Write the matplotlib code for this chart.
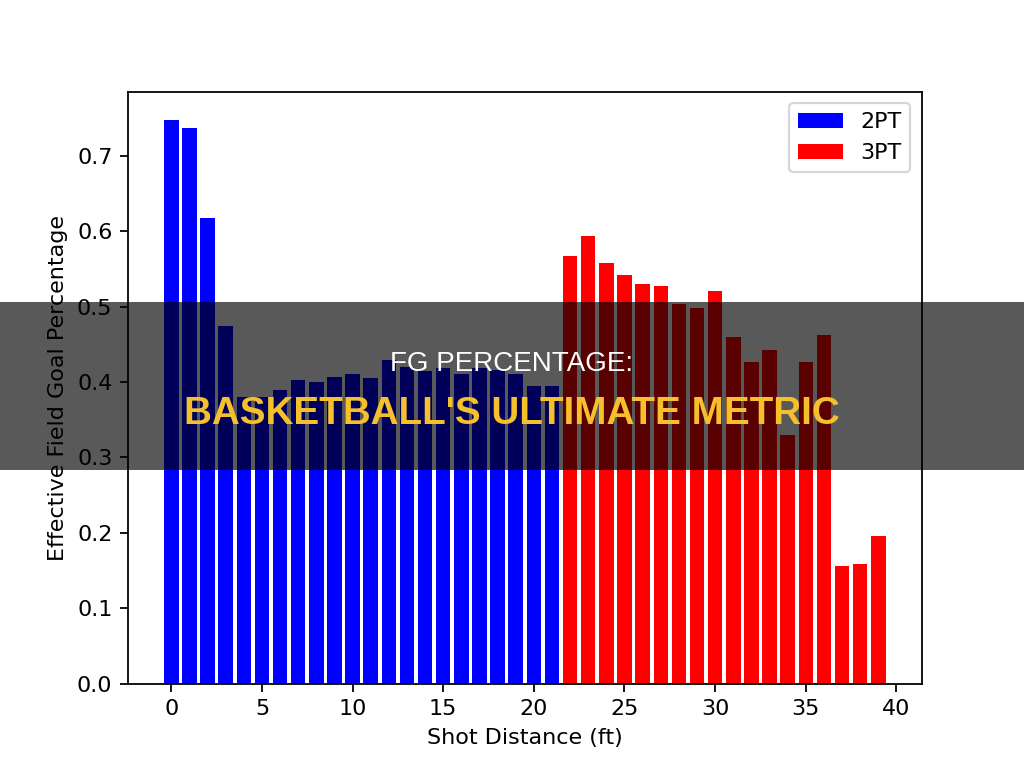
import matplotlib.pyplot as plt
import numpy as np

# effective FG% by shot distance (ft)
dist_2pt = np.arange(0, 22)
efg_2pt = [0.747, 0.737, 0.617, 0.474, 0.380, 0.380, 0.389, 0.403, 0.400, 0.406, 0.411,
           0.405, 0.429, 0.420, 0.414, 0.418, 0.411, 0.419, 0.416, 0.410, 0.394, 0.395]

dist_3pt = np.arange(22, 40)
efg_3pt = [0.567, 0.594, 0.558, 0.542, 0.530, 0.527, 0.504, 0.498, 0.520, 0.459,
           0.427, 0.442, 0.330, 0.426, 0.462, 0.156, 0.159, 0.196]

banner_title = "FG PERCENTAGE:"
banner_subtitle = "BASKETBALL'S ULTIMATE METRIC"

fig, ax = plt.subplots(figsize=(6.4, 4.8), dpi=160)

ax.bar(dist_2pt, efg_2pt, color='blue', label='2PT')
ax.bar(dist_3pt, efg_3pt, color='red', label='3PT')

ax.set_xlabel('Shot Distance (ft)')
ax.set_ylabel('Effective Field Goal Percentage')
ax.legend(loc='upper right')

# dark banner over the middle of the image
band_bottom = 1 - 470 / 768
band_top = 1 - 302 / 768
fig.patches.append(plt.Rectangle((0, band_bottom), 1, band_top - band_bottom,
                                 transform=fig.transFigure, facecolor='black',
                                 alpha=0.65, zorder=10))
fig.text(0.5, 1 - 364 / 768, banner_title, color='white', fontsize=12.5,
         family='Liberation Sans', ha='center', va='center', zorder=11)
fig.text(0.5, 1 - 414 / 768, banner_subtitle, color='#F5C02C', fontsize=17.4,
         family='Liberation Sans', fontweight='bold', ha='center', va='center', zorder=11)

plt.savefig('out.png', dpi=160)
